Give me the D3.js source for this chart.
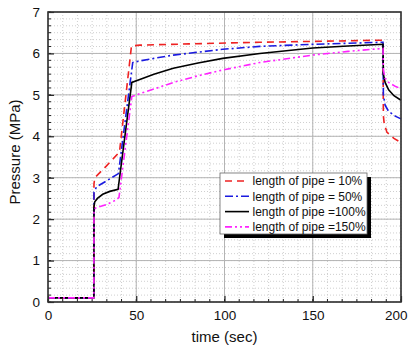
<!DOCTYPE html>
<html><head><meta charset="utf-8">
<script src="https://cdn.jsdelivr.net/npm/d3@7"></script>
<style>body{margin:0;background:#fff}svg{display:block}</style>
</head><body>
<svg id="chart" width="409" height="347"></svg>
<script>
const seriesNames = ["length of pipe = 10%", "length of pipe = 50%", "length of pipe =100%", "length of pipe =150%"];
const xTicks = [0, 50, 100, 150, 200];
const yTicks = [0, 1, 2, 3, 4, 5, 6, 7];

const t10 = [0, 26, 26.05, 26.5, 33, 40.5, 47.3, 52, 80, 120, 150, 189.8, 190, 190.5, 192, 196, 200];
const p10 = [0.1, 0.1, 2.85, 3.0, 3.28, 3.62, 6.18, 6.2, 6.23, 6.27, 6.29, 6.32, 4.5, 4.3, 4.1, 3.95, 3.85];

const t50 = [0, 26, 26.05, 27.5, 33, 39.9, 48, 52, 60, 71, 85, 99, 120, 150, 189.8, 190, 191, 193, 197, 200];
const p50 = [0.1, 0.1, 2.65, 2.78, 2.92, 3.1, 5.78, 5.82, 5.88, 5.96, 6.03, 6.1, 6.17, 6.22, 6.27, 5.0, 4.75, 4.6, 4.48, 4.42];

const t100 = [0, 26, 26.05, 26.5, 28, 31, 35, 39.7, 47.5, 52, 60, 71, 85, 99, 120, 150, 170, 189.8, 190, 191, 193, 196, 200];
const p100 = [0.1, 0.1, 2.3, 2.42, 2.5, 2.6, 2.67, 2.72, 5.3, 5.37, 5.5, 5.64, 5.77, 5.88, 6.0, 6.13, 6.18, 6.22, 5.5, 5.3, 5.12, 4.98, 4.87];

const t150 = [0, 26, 26.05, 27, 33, 38, 40.2, 47.5, 52, 60, 71, 85, 99, 120, 150, 170, 189.8, 190, 191, 193, 197, 200];
const p150 = [0.1, 0.1, 2.2, 2.27, 2.35, 2.45, 2.52, 4.96, 5.03, 5.14, 5.3, 5.46, 5.6, 5.78, 5.96, 6.05, 6.12, 5.6, 5.4, 5.3, 5.2, 5.15];

const seriesColors = ["#ee2222", "#1a1ae0", "#000000", "#ff22ff"];
const seriesDash = ["7,5", "8,3,2,3", null, "7,3,2,3,2,3"];
const seriesT = [t10, t50, t100, t150];
const seriesP = [p10, p50, p100, p150];

const svg = d3.select("#chart");
const m = {l: 48, t: 12, r: 401, b: 302};
const x = d3.scaleLinear().domain([0, 200]).range([m.l, m.r]);
const y = d3.scaleLinear().domain([0, 7]).range([m.b, m.t]);
const font = "Liberation Sans, Arial, sans-serif";

// minor grid
const xMinor = d3.range(0, 200.001, 50 / 6);
const yMinor = d3.range(0, 7.001, 1 / 6);
const g = svg.append("g");
g.selectAll(".xm").data(xMinor).join("line")
  .attr("x1", d => x(d)).attr("x2", d => x(d)).attr("y1", m.t).attr("y2", m.b)
  .attr("stroke", "#cfcfcf").attr("stroke-dasharray", "1,2").attr("stroke-width", 1);
g.selectAll(".ym").data(yMinor).join("line")
  .attr("y1", d => y(d)).attr("y2", d => y(d)).attr("x1", m.l).attr("x2", m.r)
  .attr("stroke", "#cfcfcf").attr("stroke-dasharray", "1,2").attr("stroke-width", 1);
// major grid
g.selectAll(".xM").data(xTicks).join("line")
  .attr("x1", d => x(d)).attr("x2", d => x(d)).attr("y1", m.t).attr("y2", m.b)
  .attr("stroke", "#b4b4b4").attr("stroke-width", 1);
g.selectAll(".yM").data(yTicks).join("line")
  .attr("y1", d => y(d)).attr("y2", d => y(d)).attr("x1", m.l).attr("x2", m.r)
  .attr("stroke", "#b4b4b4").attr("stroke-width", 1);

// series
const line = d3.line().x(d => x(d[0])).y(d => y(d[1]));
seriesT.forEach((ts, i) => {
  const pts = ts.map((t, j) => [t, seriesP[i][j]]);
  svg.append("path").datum(pts).attr("d", line)
    .attr("fill", "none").attr("stroke", seriesColors[i]).attr("stroke-width", 1.6)
    .attr("stroke-dasharray", seriesDash[i]);
});

// axes (ticks inside)
const axL = svg.append("g").attr("transform", `translate(${m.l},0)`)
  .call(d3.axisLeft(y).tickValues(yTicks).tickSize(-6).tickPadding(8).tickFormat(d3.format("d")));
const axB = svg.append("g").attr("transform", `translate(0,${m.b})`)
  .call(d3.axisBottom(x).tickValues(xTicks).tickSize(-6).tickPadding(8).tickFormat(d3.format("d")));
[axL, axB].forEach(a => {
  a.select(".domain").remove();
  a.selectAll("text").attr("font-family", font).attr("font-size", 13.5).attr("fill", "#111");
  a.selectAll(".tick line").attr("stroke", "#222").attr("stroke-width", 1.2);
});
// keep the last x label inside the picture
axB.selectAll(".tick text").filter(d => d === 200).attr("text-anchor", "end").attr("x", 407 - x(200));
// minor ticks
svg.append("g").selectAll("line").data(yMinor).join("line")
  .attr("x1", m.l).attr("x2", m.l + 3).attr("y1", d => y(d)).attr("y2", d => y(d))
  .attr("stroke", "#222").attr("stroke-width", 1);
svg.append("g").selectAll("line").data(xMinor).join("line")
  .attr("x1", d => x(d)).attr("x2", d => x(d)).attr("y1", m.b).attr("y2", m.b - 3)
  .attr("stroke", "#222").attr("stroke-width", 1);

// frame
svg.append("rect").attr("x", m.l).attr("y", m.t).attr("width", m.r - m.l).attr("height", m.b - m.t)
  .attr("fill", "none").attr("stroke", "#333").attr("stroke-width", 1.6);

// axis titles
svg.append("text").attr("x", (m.l + m.r) / 2).attr("y", 342).attr("text-anchor", "middle")
  .attr("font-family", font).attr("font-size", 15).attr("fill", "#111").text("time (sec)");
svg.append("text").attr("transform", "translate(20,152) rotate(-90)").attr("text-anchor", "middle")
  .attr("font-family", font).attr("font-size", 15).attr("fill", "#111").text("Pressure (MPa)");

// legend
const lg = svg.append("g");
lg.append("rect").attr("x", 224).attr("y", 177).attr("width", 147).attr("height", 61).attr("fill", "#000");
lg.append("rect").attr("x", 220).attr("y", 173).attr("width", 147).attr("height", 61)
  .attr("fill", "#fff").attr("stroke", "#666").attr("stroke-width", 0.8);
seriesNames.forEach((n, i) => {
  const yy = 181 + i * 15.3;
  lg.append("line").attr("x1", 225).attr("x2", 249).attr("y1", yy).attr("y2", yy)
    .attr("stroke", seriesColors[i]).attr("stroke-width", 1.6).attr("stroke-dasharray", seriesDash[i]);
  lg.append("text").attr("x", 252.5).attr("y", yy + 4.3).attr("font-family", font).attr("font-size", 12)
    .attr("fill", "#111").text(n);
});
</script>
</body></html>
